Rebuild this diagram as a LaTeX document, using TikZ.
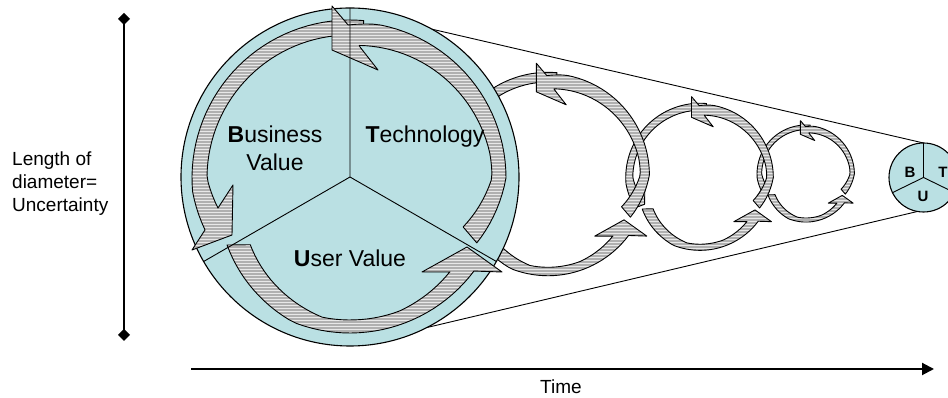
\documentclass[tikz,border=0pt]{standalone}
\usepackage{fontspec}
\setmainfont{Liberation Sans}
\usetikzlibrary{arrows.meta,patterns}
\pgfdeclarelayer{bg}
\pgfsetlayers{bg,main}
\definecolor{discblue}{RGB}{186,224,227}
\pgfdeclarepatternformonly{hstripes}{\pgfpoint{-1pt}{-1pt}}{\pgfpoint{4pt}{4pt}}{\pgfpoint{3pt}{3pt}}{%
  \pgfsetlinewidth{1.5pt}%
  \pgfpathmoveto{\pgfpoint{-1pt}{0.75pt}}%
  \pgfpathlineto{\pgfpoint{4pt}{0.75pt}}%
  \pgfusepath{stroke}}
\tikzset{
  arw/.style={draw=black, line width=0.9pt, line join=round,
    preaction={fill=gray!18}, pattern=hstripes, pattern color=gray!62},
  disc/.style={circle, draw=black, line width=1.1pt, fill=discblue, inner sep=0pt, outer sep=0pt},
  divline/.style={draw=black, line width=0.9pt},
  bigtxt/.style={font=\fontsize{23}{28}\selectfont, inner sep=0pt, anchor=base},
  axtxt/.style={font=\fontsize{19}{23}\selectfont, inner sep=0pt},
  smalltxt/.style={font=\fontsize{15}{18}\selectfont\bfseries, inner sep=0pt, anchor=base},
  axisline/.style={draw=black, line width=2pt},
}
\newcommand{\drawbvcycle}{%
  \path[arw] plot[domain=208.6:323.1,samples=40] (\x:{140+15*min(1,((\x)-208.6)/40)})
    -- (152,-94) -- (117,-69) -- (72,-94) -- (100,-94)
    -- plot[domain=316.8:213.8,samples=40] (\x:{120+22*min(1,((\x)-213.8)/45)-5*max(0,((\x)-290)/26.8)}) -- cycle;
  \path[arw] plot[domain=85:199.7,samples=40] (\x:{158-4*max(0,((\x)-185)/14.7)})
    -- (-158,-72) -- (-118,-57) -- (-117,-7) -- (-132,-30)
    -- plot[domain=192.8:85,samples=40] (\x:{143-7.6*max(0,((\x)-180)/12.8)}) -- cycle;
  \path[arw] plot[domain=-27.1:90.7,samples=40] (\x:{156-0.5*max(0,-1*(\x))-3*max(0,((\x)-80)/10.7)})
    -- (-18,172) -- (-18,128) -- (28,108) -- (10,131)
    -- plot[domain=86:-23.4,samples=40] (\x:{142-0.8*max(0,-1*(\x))-0.12*max(0,(\x)-10)}) -- cycle;
}
\begin{document}
\begin{tikzpicture}[x=1pt,y=1pt]
\path[use as bounding box] (0,0) rectangle (948,398);
\clip (0,0) rectangle (948,398);
% axes
\coordinate (vtop) at (124,385);
\coordinate (vbot) at (124,57);
\draw[axisline, {Diamond[length=12pt,width=12pt]}-{Diamond[length=12pt,width=12pt]}] (vtop) -- (vbot);
\coordinate (t0) at (191,29);
\coordinate (t1) at (934,29);
\draw[axisline, -{Triangle[length=12pt,width=12pt]}] (t0) -- (t1);
% smaller cycles
\begin{scope}[shift={(806,224)},scale=0.31] \drawbvcycle \end{scope}
\begin{scope}[shift={(700,220.5)},scale=0.47] \drawbvcycle \end{scope}
\begin{scope}[shift={(548,223)},scale=0.65] \drawbvcycle \end{scope}
% big disc
\node[disc, minimum size=338pt] (big) at (350,221) {};
\begin{scope}[shift={(350,220)}] \drawbvcycle \end{scope}
\draw[divline] (big.center) -- (big.90) (big.center) -- (big.210) (big.center) -- (big.330);
% small disc
\node[disc, minimum size=69pt] (small) at (923.5,220.5) {};
\draw[divline] (small.center) -- (small.90) (small.center) -- (small.206) (small.center) -- (small.334);
\begin{pgfonlayer}{bg}
\draw[divline] (big.61) -- (small.90);
\draw[divline] (big.-63) -- (small.260);
\end{pgfonlayer}
% texts
\node[axtxt, anchor=base west] (l1) at (12,232) {Length of};
\node[axtxt, anchor=base west] (l2) at (12,209) {diameter=};
\node[axtxt, anchor=base west] (l3) at (12,186) {Uncertainty};
\node[axtxt, anchor=base] (time) at (561,4) {Time};
\node[bigtxt] (bus) at (275,255) {\textbf{B}usiness};
\node[bigtxt] (val) at (275,227) {Value};
\node[bigtxt] (tech) at (425,255) {\textbf{T}echnology};
\node[bigtxt] (user) at (350,131) {\textbf{U}ser Value};
\node[smalltxt] (sb) at (910,220) {B};
\node[smalltxt] (st) at (943,220) {T};
\node[smalltxt] (su) at (923,196) {U};
\end{tikzpicture}
\end{document}
